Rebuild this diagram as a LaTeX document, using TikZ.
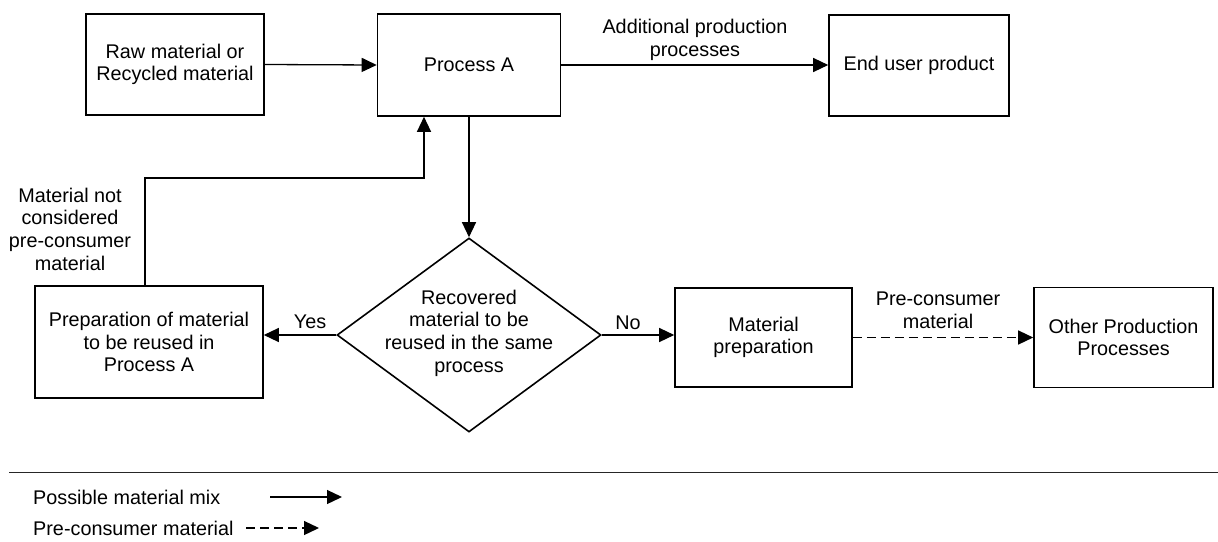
\documentclass[tikz,border=0pt]{standalone}
\usepackage{fontspec}
\setmainfont{Liberation Sans}
\usetikzlibrary{arrows.meta,shapes.geometric}
\begin{document}
\begin{tikzpicture}[x=1pt,y=-1pt,
  every node/.style={font=\fontsize{19.8}{22.7}\selectfont},
  box/.style={draw, line width=1.6pt, inner sep=0pt, align=center},
  conn/.style={line width=1.3pt, -{Triangle[length=15pt,width=14pt]}},
  dashconn/.style={conn, dash pattern=on 9pt off 5pt},
  lbl/.style={align=center, inner sep=0pt}]
\useasboundingbox (0,0) rectangle (1218,541);
% boxes
\node[box, minimum width=178pt, minimum height=101pt] (raw) at (175,64.5) {Raw material or\\Recycled material};
\node[box, minimum width=183pt, minimum height=102pt] (procA) at (469,65) {Process A};
\node[box, minimum width=180pt, minimum height=101pt] (endu) at (919,65.5) {End user product};
\node[box, minimum width=228pt, minimum height=112pt] (prep) at (149,342) {Preparation of material\\to be reused in\\Process A};
\node[draw, shape=diamond, line width=1.6pt, inner sep=0pt, minimum width=264pt, minimum height=194pt] (dia) at (469,335) {};
\node[lbl] (diatext) at (469,333) {Recovered\\material to be\\reused in the same\\process};
\node[box, minimum width=177pt, minimum height=99pt] (matprep) at (763.5,337.5) {Material\\preparation};
\node[box, minimum width=179pt, minimum height=100pt] (other) at (1123.5,337.5) {Other Production\\Processes};
% labels
\node[lbl] (addl) at (695,40) {Additional production\\processes};
\node[lbl] (notpc) at (70,229) {Material not\\considered\\pre-consumer\\material};
\node[lbl] (yes) at (310,322) {Yes};
\node[lbl] (no) at (628,323) {No};
\node[lbl] (pcm) at (938,310) {Pre-consumer\\material};
% connectors
\draw[conn] (raw.east) -- (procA.west);
\draw[conn] (procA.east) -- (endu.west |- procA.east);
\draw[conn] (procA.south) -- (dia.north);
\coordinate (lp1) at (145,178);
\coordinate (lp2) at (424,178);
\draw[conn] (prep.north -| lp1) -- (lp1) -- (lp2) -- (lp2 |- procA.south);
\draw[conn] (dia.west) -- (dia.west -| prep.east);
\draw[conn] (dia.east) -- (dia.east -| matprep.west);
\draw[dashconn] (matprep.east) -- (other.west);
% legend
\coordinate (sepL) at (9,472);
\coordinate (sepR) at (1218,472);
\draw[line width=1pt, black!85] (sepL) -- (sepR);
\node[anchor=west, inner sep=0pt] (lg1) at (33,497) {Possible material mix};
\node[anchor=west, inner sep=0pt] (lg2) at (33,528) {Pre-consumer material};
\coordinate (la1) at (270,497);
\coordinate (la2) at (342,497);
\coordinate (lb1) at (246,528);
\coordinate (lb2) at (319,528);
\draw[conn] (la1) -- (la2);
\draw[dashconn] (lb1) -- (lb2);
\end{tikzpicture}
\end{document}
